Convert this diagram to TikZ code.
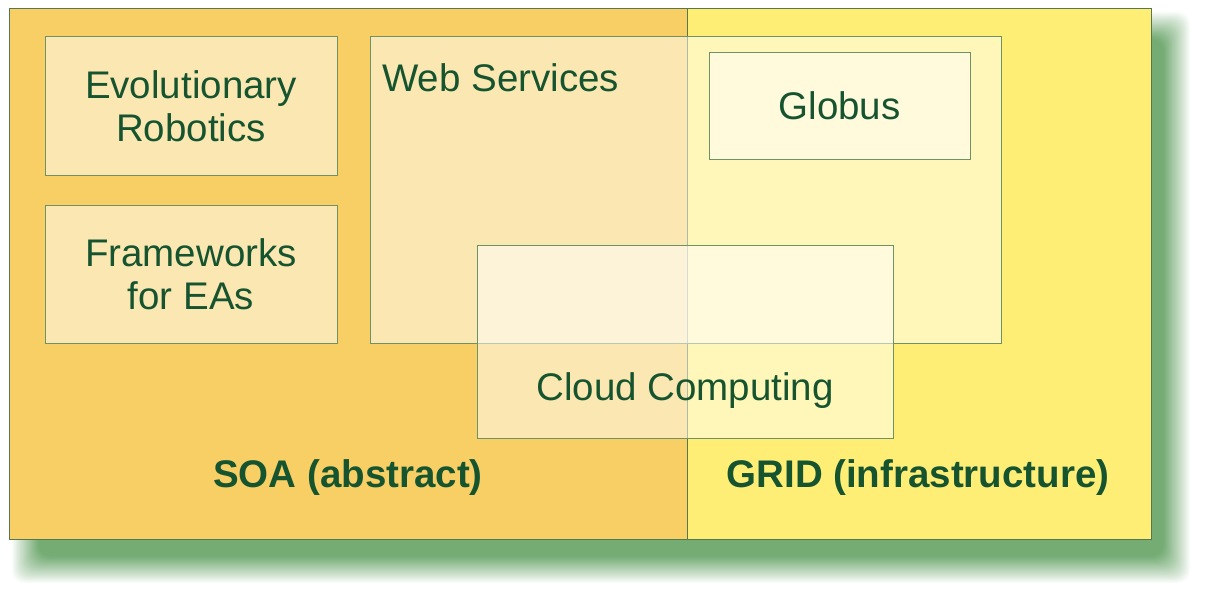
\documentclass[tikz,border=0pt]{standalone}
\usepackage{fontspec}
\setmainfont{Liberation Sans}
\usetikzlibrary{fadings}
\definecolor{soacol}{RGB}{247,207,100}
\definecolor{gridcol}{RGB}{255,238,118}
\definecolor{shadowgreen}{RGB}{116,172,116}
\definecolor{boxline}{RGB}{110,145,102}
\definecolor{outline}{RGB}{85,120,80}
\definecolor{txt}{RGB}{22,84,48}
\tikzfading[name=stripefade, left color=transparent!100, middle color=transparent!50, right color=transparent!100]
\tikzset{
  region/.style={rectangle, draw=outline, line width=1pt, inner sep=0pt},
  box/.style={rectangle, draw=boxline, line width=1pt, fill=white, fill opacity=0.5, text opacity=1, inner sep=0pt, text=txt, align=center, font=\fontsize{38.5}{43.5}\selectfont},
  lbl/.style={inner sep=0pt, text=txt, font=\fontsize{38.5}{43.5}\selectfont},
  blbl/.style={inner sep=0pt, text=txt, font=\fontsize{38.5}{43.5}\selectfont\bfseries},
}
\begin{document}
\begin{tikzpicture}[x=1pt,y=-1pt]
\useasboundingbox (0,0) rectangle (1205,594);
\fill[white] (0,0) rectangle (1205,594);
% soft shadow: linear ramp of coverage over 28 px
\foreach \k in {0,...,27}{%
  \pgfmathsetmacro{\op}{1/(28-\k)}
  \fill[shadowgreen, fill opacity=\op, rounded corners=12pt]
    ({12+\k},{12+\k}) rectangle ({1190-\k},{583-\k});
}
% lighter streak in the shadow below the divider
\fill[white, path fading=stripefade] (694,540) rectangle (724,592);
% regions
\node[region, fill=soacol, minimum width=678, minimum height=530] (soa) at (348,274) {};
\node[region, fill=gridcol, minimum width=464, minimum height=530] (grid) at (919,274) {};
% boxes
\node[box, minimum width=292, minimum height=138] (evo) at (191,106) {Evolutionary\\Robotics};
\node[box, minimum width=292, minimum height=138] (fw) at (191,274) {Frameworks\\for EAs};
\node[box, minimum width=631, minimum height=306] (ws) at (685.5,190) {};
\node[lbl, anchor=base west] (wslbl) at (382,92) {Web Services};
\node[box, minimum width=261, minimum height=106] (globus) at (839.5,106) {Globus};
\node[box, minimum width=416, minimum height=193] (cloud) at (685,341.5) {};
\node[lbl, anchor=base] (cloudlbl) at (685,400) {Cloud Computing};
% region labels
\node[blbl, anchor=base] (soalbl) at (348,487) {SOA (abstract)};
\node[blbl, anchor=base] (gridlbl) at (918,487) {GRID (infrastructure)};
\end{tikzpicture}
\end{document}
